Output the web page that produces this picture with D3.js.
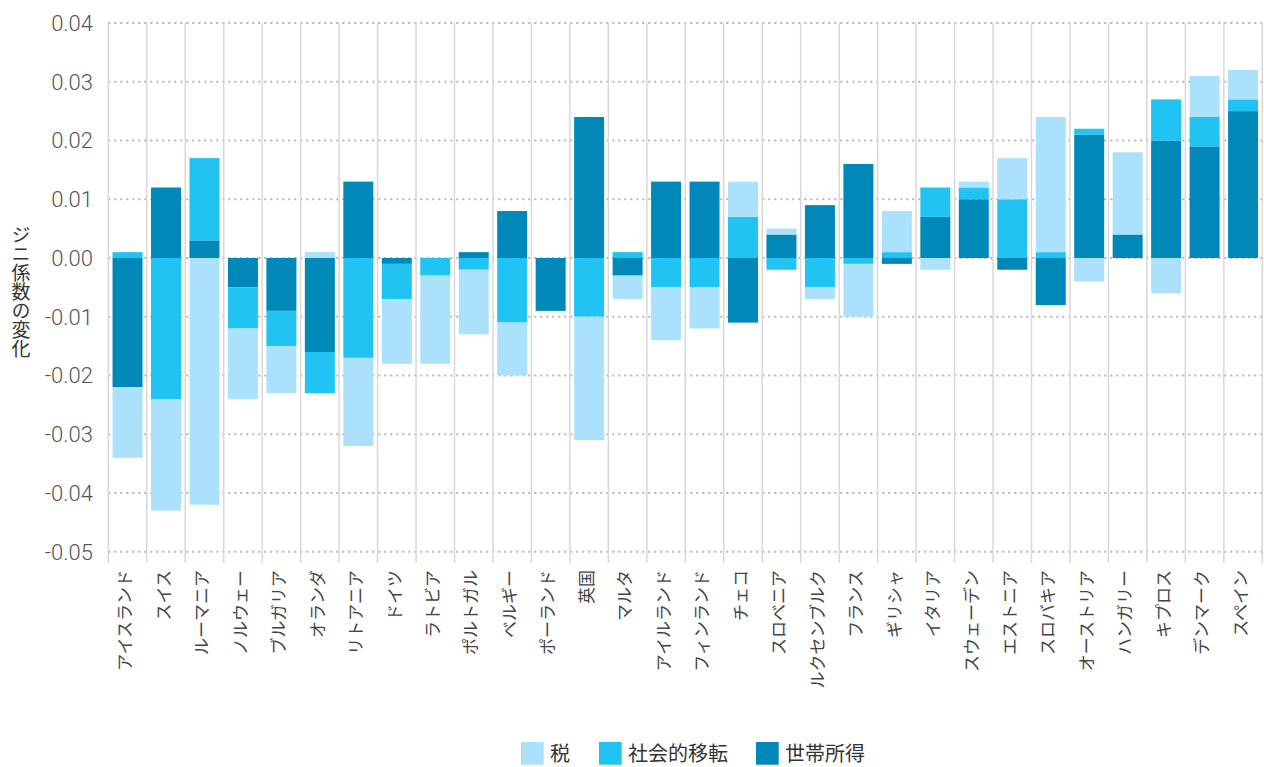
<!DOCTYPE html>
<html>
<head>
<meta charset="utf-8">
<script src="https://cdn.jsdelivr.net/npm/d3@7/dist/d3.min.js"></script>
<style>
  html, body { margin: 0; padding: 0; background: #fff; }
  svg { display: block; }
</style>
</head>
<body>
<svg id="chart" width="1264" height="767"></svg>
<script>
const categories = ["アイスランド","スイス","ルーマニア","ノルウェー","ブルガリア","オランダ","リトアニア","ドイツ","ラトビア","ポルトガル","ベルギー","ポーランド","英国","マルタ","アイルランド","フィンランド","チェコ","スロベニア","ルクセンブルク","フランス","ギリシャ","イタリア","スウェーデン","エストニア","スロバキア","オーストリア","ハンガリー","キプロス","デンマーク","スペイン"];

const tax    = [-0.012,-0.019,-0.042,-0.012,-0.008, 0.001,-0.015,-0.011,-0.015,-0.011,-0.009, 0.000,-0.021,-0.004,-0.009,-0.007, 0.006, 0.001,-0.002,-0.009, 0.007,-0.002, 0.001, 0.007, 0.023,-0.004, 0.014,-0.006, 0.007, 0.005];
const social = [ 0.001,-0.024, 0.014,-0.007,-0.006,-0.007,-0.017,-0.006,-0.003,-0.002,-0.011, 0.000,-0.010, 0.001,-0.005,-0.005, 0.007,-0.002,-0.005,-0.001, 0.001, 0.005, 0.002, 0.010, 0.001, 0.001, 0.000, 0.007, 0.005, 0.002];
const income = [-0.022, 0.012, 0.003,-0.005,-0.009,-0.016, 0.013,-0.001, 0.000, 0.001, 0.008,-0.009, 0.024,-0.003, 0.013, 0.013,-0.011, 0.004, 0.009, 0.016,-0.001, 0.007, 0.010,-0.002,-0.008, 0.021, 0.004, 0.020, 0.019, 0.025];

const seriesNames = ["税","社会的移転","世帯所得"];
const yTicks = [0.04,0.03,0.02,0.01,0.00,-0.01,-0.02,-0.03,-0.04,-0.05];
const yTitle = "ジニ係数の変化";

const colors = {"税":"#abe1fa","社会的移転":"#21c3f3","世帯所得":"#0089b8"};

const svg = d3.select("#chart");
const plotLeft = 108.3, plotRight = 1262.3, plotTop = 23, plotBottom = 551.75;

const x = d3.scaleBand().domain(categories).range([plotLeft, plotRight]).paddingInner(0.22).paddingOuter(0.11);
const y = d3.scaleLinear().domain([-0.05, 0.04]).range([plotBottom, plotTop]);

const rows = categories.map((c, i) => ({cat: c, "税": tax[i], "社会的移転": social[i], "世帯所得": income[i]}));
const stackKeys = ["世帯所得","社会的移転","税"];
const stacked = d3.stack().keys(stackKeys).offset(d3.stackOffsetDiverging)(rows);

// horizontal dotted gridlines
svg.append("g").selectAll("line").data(yTicks).join("line")
  .attr("x1", plotLeft).attr("x2", plotRight)
  .attr("y1", d => y(d)).attr("y2", d => y(d))
  .attr("stroke", "#b5b5b5").attr("stroke-width", 2)
  .attr("stroke-dasharray", "2,4");

// vertical separators
const step = x.step();
const x0 = x.range()[0];
svg.append("g").selectAll("line").data(d3.range(categories.length + 1)).join("line")
  .attr("x1", i => x0 + i * step).attr("x2", i => x0 + i * step)
  .attr("y1", plotTop).attr("y2", 563)
  .attr("stroke", "#d8d8d8").attr("stroke-width", 1.5);

// bars
svg.append("g").selectAll("g").data(stacked).join("g")
  .attr("fill", s => colors[s.key])
  .selectAll("rect").data(s => s).join("rect")
  .attr("x", d => x(d.data.cat))
  .attr("width", x.bandwidth())
  .attr("y", d => y(Math.max(d[0], d[1])))
  .attr("height", d => Math.abs(y(d[0]) - y(d[1])));

// y tick labels
svg.append("g").selectAll("text").data(yTicks).join("text")
  .attr("x", 93).attr("y", d => y(d))
  .attr("dy", "0.36em")
  .attr("text-anchor", "end")
  .attr("font-family", "Roboto, 'Liberation Sans', Arial, sans-serif")
  .attr("font-weight", 300)
  .attr("font-size", 22)
  .attr("fill", "#555")
  .text(d => d3.format(".2f")(d).replace("−", "-"));

// y title (vertical writing, upright characters)
svg.append("text")
  .attr("x", 21).attr("y", 292)
  .attr("text-anchor", "middle")
  .style("writing-mode", "vertical-rl")
  .style("text-orientation", "upright")
  .attr("font-family", "'Noto Sans CJK JP', sans-serif")
  .attr("font-size", 19)
  .attr("fill", "#333")
  .text(yTitle);

// category labels
svg.append("g").selectAll("text").data(categories).join("text")
  .attr("transform", d => `translate(${x(d) + x.bandwidth() / 2},570) rotate(-90)`)
  .attr("dy", "0.22em")
  .attr("text-anchor", "end")
  .attr("font-family", "'Noto Sans CJK JP', sans-serif")
  .attr("font-size", 17)
  .attr("fill", "#444")
  .text(d => d);

// legend
const legendX = [521, 599, 756];
const lg = svg.append("g").selectAll("g").data(seriesNames).join("g")
  .attr("transform", (d, i) => `translate(${legendX[i]},742)`);
lg.append("rect").attr("width", 22.7).attr("height", 22.7).attr("fill", d => colors[d]);
lg.append("text").attr("x", 29).attr("y", 11.5).attr("dy", "0.36em")
  .attr("font-family", "'Noto Sans CJK JP', sans-serif")
  .attr("font-size", 20).attr("fill", "#333")
  .text(d => d);
</script>
</body>
</html>
